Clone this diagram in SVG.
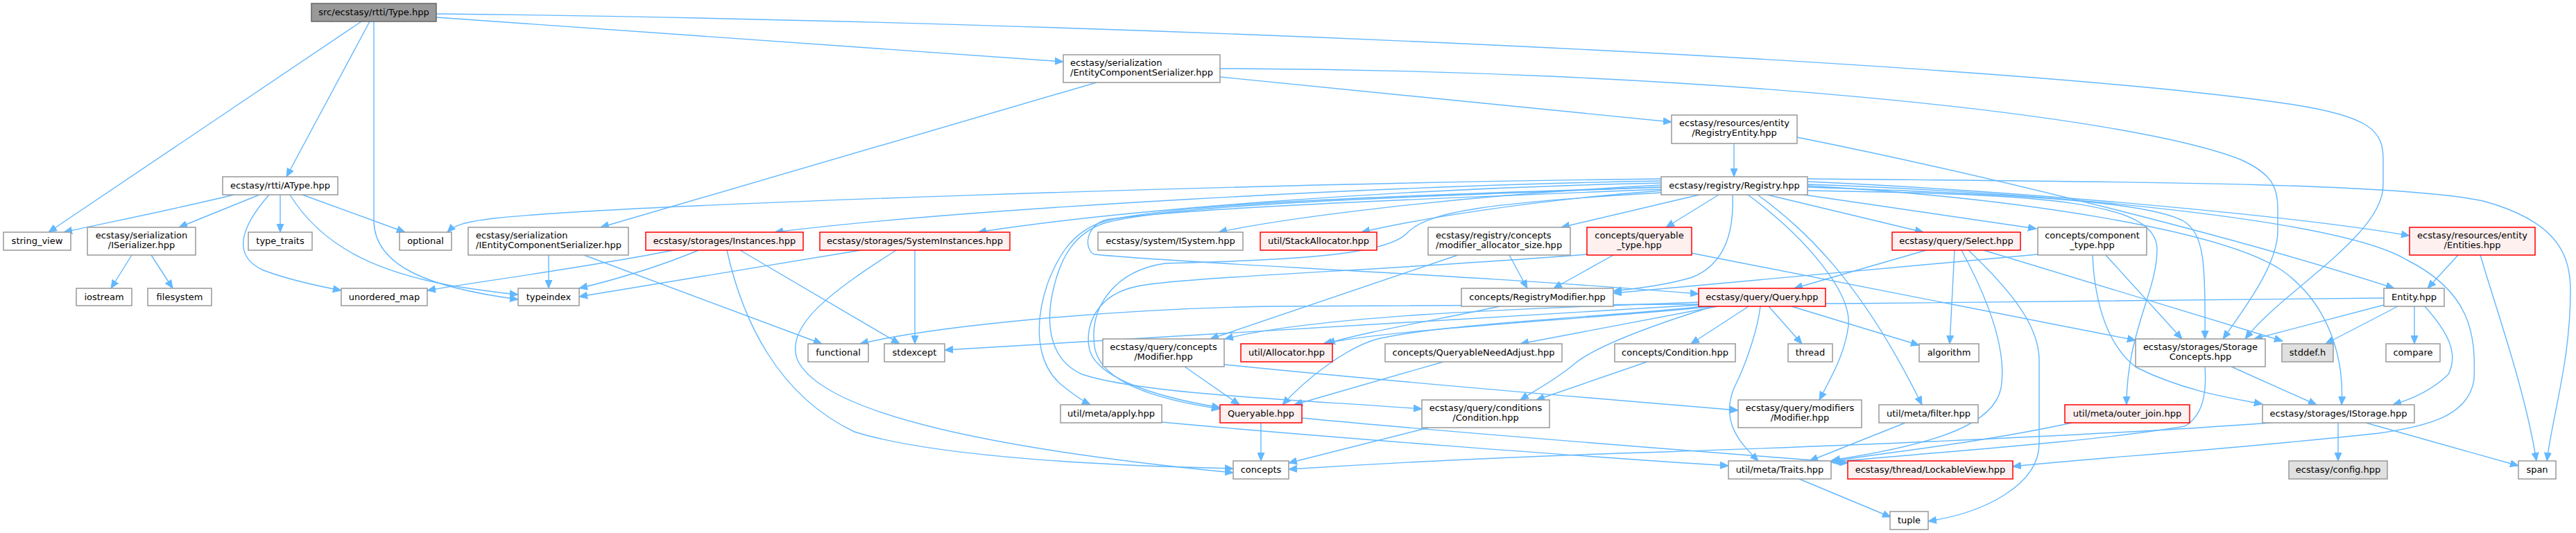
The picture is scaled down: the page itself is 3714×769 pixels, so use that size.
<svg xmlns="http://www.w3.org/2000/svg" width="3714" height="769" viewBox="0 0 3714 769">
<style>
rect{fill:#fff;stroke:#999;stroke-width:1.5}
.root rect{fill:#999;stroke:#666}
.tr rect{fill:#fff0f0;stroke:#f00}
.nd rect{fill:#e0e0e0;stroke:#999}
text{font-family:'DejaVu Sans','Liberation Sans',sans-serif;font-size:13px;fill:#000}
.c{text-anchor:middle}
.l{text-anchor:start}
#edges path{fill:none;stroke:#63b8ff;stroke-width:1.4;marker-end:url(#a)}
</style>
<defs>
<marker id="a" markerUnits="userSpaceOnUse" markerWidth="13" markerHeight="11" refX="12" refY="5" orient="auto" viewBox="0 0 13 10">
<path d="M0,0 L12,5 L0,10 z" fill="#63b8ff" stroke="#63b8ff" stroke-width="1"/>
</marker>
</defs>
<rect x="0" y="0" width="3714" height="769" style="fill:#fff;stroke:none"/>
<g id="edges">
<path d="M521,31 L70,335"/>
<path d="M533,31 L413,255"/>
<path d="M539,31 L539,320 C541,385 620,415 747,432"/>
<path d="M629,25 L1533,89"/>
<path d="M629,20 C1600,30 2900,90 3300,150 C3420,168 3436,190 3436,230 L3436,267 C3436,340 3290,420 3237,489"/>
<path d="M337,281 C260,300 170,318 92,335"/>
<path d="M374,281 L258,328"/>
<path d="M388,281 C345,330 335,370 380,390 C420,405 460,413 492,419"/>
<path d="M404,281 L404,335"/>
<path d="M418,281 C470,365 560,395 650,412 C700,420 725,423 747,425"/>
<path d="M436,281 L584,335"/>
<path d="M190,368 L160,416"/>
<path d="M218,368 L249,416"/>
<path d="M1581,119 L866,328"/>
<path d="M1759,111 L2410,176"/>
<path d="M1759,99 C2400,100 3050,160 3230,230 C3275,250 3284,270 3284,300 L3284,333 C3284,380 3240,440 3205,489"/>
<path d="M2500,207 L2500,255"/>
<path d="M2591,198 C2900,260 3250,350 3452,416"/>
<path d="M791,368 L791,416"/>
<path d="M842,368 L1185,496"/>
<path d="M971,361 C850,385 700,405 616,419"/>
<path d="M1007,361 C950,385 880,405 835,416"/>
<path d="M1067,361 L1297,496"/>
<path d="M1048,361 C1070,460 1120,570 1232,623 C1350,660 1600,672 1778,676"/>
<path d="M1241,361 L835,428"/>
<path d="M1319,361 L1319,496"/>
<path d="M1292,361 C1200,420 1130,470 1150,520 C1190,600 1450,650 1778,682"/>
<path d="M2395,258 C1800,265 900,295 712,315 C670,320 655,325 645,335"/>
<path d="M2395,261 C2000,268 1400,300 1117,335"/>
<path d="M2395,264 C2000,272 1600,305 1410,335"/>
<path d="M2395,267 C2100,282 1850,315 1757,335"/>
<path d="M2395,275 C2200,290 2050,315 1963,335"/>
<path d="M2395,270 C2100,280 1700,290 1590,320 C1545,335 1525,370 1510,410 C1490,470 1495,525 1530,555 C1545,567 1560,578 1572,584"/>
<path d="M2395,270 C2100,282 1700,292 1592,322 C1548,337 1530,372 1520,412 C1505,470 1515,520 1560,540 C1650,570 1900,578 2050,590"/>
<path d="M2395,273 C2100,285 1700,300 1595,317 C1565,325 1562,360 1578,367 C1700,380 2100,395 2449,424"/>
<path d="M2395,278 C2150,292 2060,305 2030,335 C2000,370 1850,375 1680,380 C1610,390 1570,440 1578,500 C1586,550 1660,575 1759,590"/>
<path d="M2450,281 L2251,328"/>
<path d="M2478,281 L2402,328"/>
<path d="M2498,281 C2500,330 2490,380 2440,400 C2400,412 2360,416 2326,420"/>
<path d="M2520,281 C2600,340 2670,420 2665,470 C2660,510 2640,545 2623,577"/>
<path d="M2534,281 C2600,330 2680,400 2771,584"/>
<path d="M2548,281 L2773,335"/>
<path d="M2601,281 L2936,330"/>
<path d="M2606,262 C2900,275 3300,310 3474,340"/>
<path d="M2606,258 C3000,262 3450,262 3580,290 C3690,320 3706,370 3706,420 C3706,520 3680,600 3672,665"/>
<path d="M2606,270 C2900,280 3100,290 3150,320 C3178,340 3180,380 3179,489"/>
<path d="M2606,275 C2950,280 3110,290 3110,360 C3110,420 3066,480 3066,584"/>
<path d="M2606,268 C2900,285 3200,330 3290,390 C3360,440 3380,520 3376,584"/>
<path d="M2606,266 C3000,280 3380,320 3470,375 C3560,420 3570,480 3567,547 C3560,600 3500,615 3430,625 C3200,650 3000,662 2902,673"/>
<path d="M2455,442 C2350,455 2100,465 1990,488 C1940,500 1880,550 1849,584"/>
<path d="M2449,436 C2200,445 1900,455 1766,489"/>
<path d="M2470,442 C2300,460 2000,475 1908,496"/>
<path d="M2449,440 C2000,470 1600,490 1362,505"/>
<path d="M2476,442 L2192,496"/>
<path d="M2470,442 C2380,470 2300,500 2270,525 C2240,550 2210,565 2192,577"/>
<path d="M2521,442 L2438,496"/>
<path d="M2550,442 L2598,496"/>
<path d="M2538,442 C2535,470 2520,520 2500,560 C2480,610 2510,640 2535,665"/>
<path d="M2583,442 L2767,498"/>
<path d="M2162,442 C2080,460 1960,480 1913,496"/>
<path d="M2081,522 L1866,584"/>
<path d="M2375,522 L2215,577"/>
<path d="M1708,529 L1787,584"/>
<path d="M1765,526 C2000,550 2300,575 2506,592"/>
<path d="M1675,609 C1900,630 2300,660 2492,672"/>
<path d="M1818,610 L1818,665"/>
<path d="M1877,603 C2100,625 2500,655 2664,668"/>
<path d="M2060,617 L1858,668"/>
<path d="M3275,610 C3000,630 2600,645 2400,652 C2200,658 2000,668 1858,677"/>
<path d="M2747,610 L2609,665"/>
<path d="M2987,610 C2850,640 2700,655 2640,666"/>
<path d="M2828,361 C2860,420 2895,500 2885,560 C2875,610 2800,640 2641,664"/>
<path d="M3179,529 C3182,570 3175,600 3150,615 C3000,640 2750,655 2640,667"/>
<path d="M2838,361 C2900,420 2940,470 2940,520 L2940,640 C2940,700 2860,740 2780,752"/>
<path d="M2594,691 L2726,746"/>
<path d="M3217,529 L3340,584"/>
<path d="M3017,368 C3020,440 3040,500 3080,530 C3150,565 3220,575 3262,583"/>
<path d="M3036,368 L3146,489"/>
<path d="M2938,367 L2326,423"/>
<path d="M2438,365 L3079,491"/>
<path d="M2326,368 L2240,416"/>
<path d="M2176,368 L2202,416"/>
<path d="M2102,368 L1745,489"/>
<path d="M2288,367 C2000,390 1700,400 1640,413 C1580,425 1565,470 1570,500 C1575,540 1650,570 1759,588"/>
<path d="M3437,430 C3000,438 2200,440 1830,442 C1600,446 1350,470 1240,496"/>
<path d="M3437,440 L3250,489"/>
<path d="M3457,442 L3353,496"/>
<path d="M3481,442 L3481,496"/>
<path d="M3496,442 C3530,480 3545,510 3530,540 C3510,560 3480,575 3450,584"/>
<path d="M3544,368 L3500,416"/>
<path d="M3576,368 C3600,450 3640,560 3657,665"/>
<path d="M3371,610 L3371,665"/>
<path d="M3411,610 L3631,672"/>
<path d="M2777,361 L2587,416"/>
<path d="M2818,361 L2811,496"/>
<path d="M2860,361 L3291,492"/>
</g>
<g id="type" class="root"><rect x="449" y="5" width="180" height="26"/><text class="c" x="539" y="22">src/ecstasy/rtti/Type.hpp</text></g>
<g id="atype"><rect x="321" y="255" width="166" height="26"/><text class="c" x="404" y="272">ecstasy/rtti/AType.hpp</text></g>
<g id="string_view"><rect x="5" y="335" width="97" height="26"/><text class="c" x="53.5" y="352">string_view</text></g>
<g id="iserializer"><rect x="126" y="328" width="156" height="40"/><text class="c" x="204" y="344">ecstasy/serialization</text><text class="c" x="204" y="358">/ISerializer.hpp</text></g>
<g id="type_traits"><rect x="358" y="335" width="92" height="26"/><text class="c" x="404" y="352">type_traits</text></g>
<g id="optional"><rect x="576" y="335" width="75" height="26"/><text class="c" x="613.5" y="352">optional</text></g>
<g id="iecs"><rect x="675" y="328" width="231" height="40"/><text class="l" x="686" y="344">ecstasy/serialization</text><text class="l" x="686" y="358">/IEntityComponentSerializer.hpp</text></g>
<g id="instances" class="tr"><rect x="931" y="335" width="227" height="26"/><text class="c" x="1044.5" y="352">ecstasy/storages/Instances.hpp</text></g>
<g id="systeminstances" class="tr"><rect x="1182" y="335" width="274" height="26"/><text class="c" x="1319" y="352">ecstasy/storages/SystemInstances.hpp</text></g>
<g id="isystem"><rect x="1583" y="335" width="209" height="26"/><text class="c" x="1687.5" y="352">ecstasy/system/ISystem.hpp</text></g>
<g id="stackallocator" class="tr"><rect x="1817" y="335" width="168" height="26"/><text class="c" x="1901" y="352">util/StackAllocator.hpp</text></g>
<g id="mas"><rect x="2059" y="328" width="205" height="40"/><text class="l" x="2070" y="344">ecstasy/registry/concepts</text><text class="l" x="2070" y="358">/modifier_allocator_size.hpp</text></g>
<g id="queryable_type" class="tr"><rect x="2288" y="328" width="151" height="40"/><text class="c" x="2363.5" y="344">concepts/queryable</text><text class="c" x="2363.5" y="358">_type.hpp</text></g>
<g id="select" class="tr"><rect x="2728" y="335" width="185" height="26"/><text class="c" x="2820.5" y="352">ecstasy/query/Select.hpp</text></g>
<g id="component_type"><rect x="2938" y="328" width="157" height="40"/><text class="c" x="3016.5" y="344">concepts/component</text><text class="c" x="3016.5" y="358">_type.hpp</text></g>
<g id="entities" class="tr"><rect x="3474" y="328" width="181" height="40"/><text class="c" x="3564.5" y="344">ecstasy/resources/entity</text><text class="c" x="3564.5" y="358">/Entities.hpp</text></g>
<g id="ecs"><rect x="1533" y="79" width="226" height="40"/><text class="l" x="1543" y="95">ecstasy/serialization</text><text class="l" x="1543" y="109">/EntityComponentSerializer.hpp</text></g>
<g id="registryentity"><rect x="2410" y="166" width="181" height="41"/><text class="c" x="2500.5" y="182">ecstasy/resources/entity</text><text class="c" x="2500.5" y="196">/RegistryEntity.hpp</text></g>
<g id="registry"><rect x="2395" y="255" width="211" height="26"/><text class="c" x="2500.5" y="272">ecstasy/registry/Registry.hpp</text></g>
<g id="iostream"><rect x="110" y="416" width="80" height="25"/><text class="c" x="150" y="432.5">iostream</text></g>
<g id="filesystem"><rect x="213" y="416" width="92" height="25"/><text class="c" x="259" y="432.5">filesystem</text></g>
<g id="unordered_map"><rect x="492" y="416" width="124" height="25"/><text class="c" x="554" y="432.5">unordered_map</text></g>
<g id="typeindex"><rect x="747" y="416" width="88" height="25"/><text class="c" x="791" y="432.5">typeindex</text></g>
<g id="registrymodifier"><rect x="2107" y="416" width="219" height="26"/><text class="c" x="2216.5" y="433">concepts/RegistryModifier.hpp</text></g>
<g id="query" class="tr"><rect x="2449" y="416" width="183" height="26"/><text class="c" x="2540.5" y="433">ecstasy/query/Query.hpp</text></g>
<g id="entity"><rect x="3437" y="416" width="87" height="26"/><text class="c" x="3480.5" y="433">Entity.hpp</text></g>
<g id="functional"><rect x="1165" y="496" width="87" height="26"/><text class="c" x="1208.5" y="513">functional</text></g>
<g id="stdexcept"><rect x="1275" y="496" width="87" height="26"/><text class="c" x="1318.5" y="513">stdexcept</text></g>
<g id="concepts_modifier"><rect x="1590" y="489" width="175" height="40"/><text class="c" x="1677.5" y="505">ecstasy/query/concepts</text><text class="c" x="1677.5" y="519">/Modifier.hpp</text></g>
<g id="allocator" class="tr"><rect x="1789" y="496" width="132" height="26"/><text class="c" x="1855" y="513">util/Allocator.hpp</text></g>
<g id="queryableneedadjust"><rect x="1997" y="496" width="255" height="26"/><text class="c" x="2124.5" y="513">concepts/QueryableNeedAdjust.hpp</text></g>
<g id="concepts_condition"><rect x="2328" y="496" width="174" height="26"/><text class="c" x="2415" y="513">concepts/Condition.hpp</text></g>
<g id="thread"><rect x="2578" y="496" width="64" height="26"/><text class="c" x="2610" y="513">thread</text></g>
<g id="algorithm"><rect x="2767" y="496" width="86" height="26"/><text class="c" x="2810" y="513">algorithm</text></g>
<g id="storageconcepts"><rect x="3079" y="489" width="187" height="40"/><text class="c" x="3172.5" y="505">ecstasy/storages/Storage</text><text class="c" x="3172.5" y="519">Concepts.hpp</text></g>
<g id="stddef" class="nd"><rect x="3290" y="496" width="74" height="26"/><text class="c" x="3327" y="513">stddef.h</text></g>
<g id="compare"><rect x="3440" y="496" width="78" height="26"/><text class="c" x="3479" y="513">compare</text></g>
<g id="apply"><rect x="1529" y="584" width="146" height="26"/><text class="c" x="1602" y="601">util/meta/apply.hpp</text></g>
<g id="queryable" class="tr"><rect x="1759" y="584" width="118" height="26"/><text class="c" x="1818" y="601">Queryable.hpp</text></g>
<g id="conditions_condition"><rect x="2050" y="577" width="184" height="40"/><text class="c" x="2142" y="593">ecstasy/query/conditions</text><text class="c" x="2142" y="607">/Condition.hpp</text></g>
<g id="modifiers_modifier"><rect x="2506" y="577" width="178" height="40"/><text class="c" x="2595" y="593">ecstasy/query/modifiers</text><text class="c" x="2595" y="607">/Modifier.hpp</text></g>
<g id="filter"><rect x="2709" y="584" width="143" height="26"/><text class="c" x="2780.5" y="601">util/meta/filter.hpp</text></g>
<g id="outer_join" class="tr"><rect x="2977" y="584" width="180" height="26"/><text class="c" x="3067" y="601">util/meta/outer_join.hpp</text></g>
<g id="istorage"><rect x="3262" y="584" width="219" height="26"/><text class="c" x="3371.5" y="601">ecstasy/storages/IStorage.hpp</text></g>
<g id="concepts"><rect x="1778" y="665" width="80" height="26"/><text class="c" x="1818" y="682">concepts</text></g>
<g id="traits"><rect x="2492" y="665" width="148" height="26"/><text class="c" x="2566" y="682">util/meta/Traits.hpp</text></g>
<g id="lockableview" class="tr"><rect x="2664" y="665" width="238" height="26"/><text class="c" x="2783" y="682">ecstasy/thread/LockableView.hpp</text></g>
<g id="config" class="nd"><rect x="3300" y="665" width="142" height="26"/><text class="c" x="3371" y="682">ecstasy/config.hpp</text></g>
<g id="span"><rect x="3631" y="665" width="54" height="26"/><text class="c" x="3658" y="682">span</text></g>
<g id="tuple"><rect x="2725" y="738" width="55" height="26"/><text class="c" x="2752.5" y="755">tuple</text></g>
</svg>
